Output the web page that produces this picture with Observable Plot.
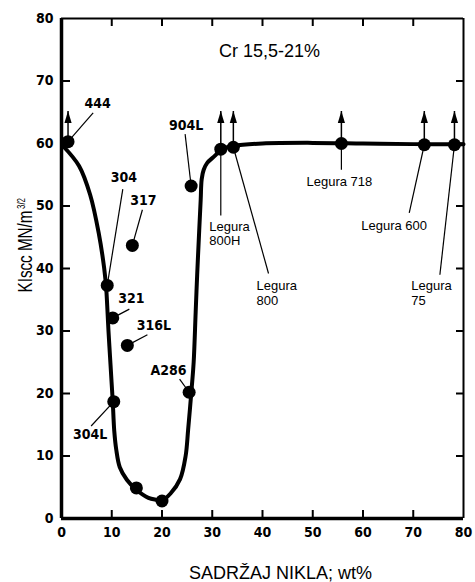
<!DOCTYPE html>
<html><head><meta charset="utf-8">
<script src="https://cdn.jsdelivr.net/npm/d3@7"></script>
<script src="https://cdn.jsdelivr.net/npm/@observablehq/plot@0.6"></script>
<style>body{margin:0;background:#fff}</style>
</head><body><div id="chart"></div>
<script>
// ---- data ----
const xTicks = [0, 10, 20, 30, 40, 50, 60, 70, 80];
const yTicks = [0, 10, 20, 30, 40, 50, 60, 70, 80];
const innerTicks = [10, 20, 30, 40, 50, 60, 70];

// fitted curve (Ni wt%, KIscc)
const curveNi = [0.3, 3.5, 5.7, 7.4, 8.5, 8.9, 9.1, 9.35, 9.65, 9.95, 10.2, 10.5, 10.9, 11.6, 13.0, 14.9, 17.3, 18.8, 20.0, 21.7, 23.6, 24.7, 25.2, 25.9, 26.3, 26.7, 27.0, 27.4, 27.7, 27.9, 28.3, 29.0, 30.6, 31.7, 34.2, 40, 50, 60, 70, 80];
const curveK  = [59.6, 56.4, 51.8, 45.7, 40.0, 36.8, 34.0, 30.0, 26.0, 22.0, 18.7, 14.0, 11.0, 8.2, 6.2, 4.6, 3.3, 3.0, 2.9, 4.0, 6.3, 10.0, 14.2, 20.8, 25.0, 33.0, 39.0, 46.0, 51.0, 54.3, 55.8, 56.9, 58.1, 59.1, 59.6, 60.0, 60.1, 60.0, 59.9, 59.9];

// measured alloys
const alloyNames = ["444", "304", "317", "321", "316L", "304L", "", "", "A286", "904L", "Legura 800H", "Legura 800", "Legura 718", "Legura 600", "Legura 75"];
const alloyNi    = [1.3, 9.1, 14.1, 10.2, 13.1, 10.4, 14.9, 20.0, 25.4, 25.8, 31.7, 34.2, 55.7, 72.2, 78.2];
const alloyK     = [60.3, 37.3, 43.7, 32.1, 27.7, 18.7, 4.9, 2.8, 20.2, 53.2, 59.1, 59.4, 60.0, 59.8, 59.8];
const arrowAlloys = ["444", "Legura 800H", "Legura 800", "Legura 718", "Legura 600", "Legura 75"];
const arrowTipK = 65.2;

// annotation labels (text, label anchor, leader start)
const annAlloy = ["444", "304", "317", "904L", "321", "316L", "304L", "A286", "Legura 800H", "Legura 800", "Legura 718", "Legura 600", "Legura 75"];
const annText  = ["444", "304", "317", "904L", "321", "316L", "304L", "A286", "Legura\n800H", "Legura\n800", "Legura 718", "Legura 600", "Legura\n75"];
const annX     = [7.2, 12.4, 16.3, 24.8, 13.9, 18.4, 5.7, 21.3, 29.4, 38.8, 55.3, 66.2, 69.6];
const annY     = [66.4, 54.5, 50.9, 62.8, 35.2, 30.8, 13.4, 23.7, 45.6, 36.1, 53.8, 46.8, 36.1];
const leadX    = [6.3, 12.2, 16.1, 24.6, 13.5, 17.1, 5.9, 23.5, 31.7, 41.2, 55.7, 69.2, 75.3];
const leadY    = [64.9, 52.7, 49.4, 61.5, 33.5, 29.4, 14.8, 22.3, 48.5, 39.2, 55.8, 48.9, 39.0];
const annKind  = ["bold", "bold", "bold", "bold", "bold", "bold", "bold", "bold", "reg", "reg", "reg", "reg", "reg"];

const titleText = "Cr 15,5-21%";
const titleNi = 41.4, titleK = 74.7;
const xLabel = "SADRŽAJ NIKLA; wt%";
const yLabelMain = "KIscc MN/m";
const yLabelSup = "3/2";

// ---- build ----
const curve = curveNi.map((x, i) => ({x, y: curveK[i]}));
const points = alloyNames.map((name, i) => ({name, x: alloyNi[i], y: alloyK[i]}));
const arrows = points.filter(d => arrowAlloys.includes(d.name));
const ann = annAlloy.map((a, i) => {
  const p = points.find(d => d.name === a);
  return {text: annText[i], kind: annKind[i], lx: annX[i], ly: annY[i], sx: leadX[i], sy: leadY[i], px: p.x, py: p.y};
});

const narrow = "'Liberation Sans Narrow', 'Arial Narrow', 'DejaVu Sans Condensed', sans-serif";
const sans = "'Liberation Sans', Arial, Helvetica, sans-serif";

const arrowHead = {
  draw(ctx) {
    ctx.moveTo(0, -6);
    ctx.lineTo(3.6, 6);
    ctx.lineTo(-3.6, 6);
    ctx.closePath();
  }
};

const W = 475, H = 582, mL = 61, mR = 12, mT = 18, mB = 64;
const fw = W - mL - mR, fh = H - mT - mB;

const chart = Plot.plot({
  width: W, height: H,
  marginLeft: mL, marginRight: mR, marginTop: mT, marginBottom: mB,
  x: {domain: [0, 80]},
  y: {domain: [0, 80]},
  style: {fontFamily: sans, background: "white", color: "black"},
  marks: [
    // frame
    Plot.ruleX([80], {stroke: "black", strokeWidth: 2}),
    Plot.ruleY([80], {stroke: "black", strokeWidth: 2}),
    Plot.ruleX([0], {stroke: "black", strokeWidth: 3.5}),
    Plot.ruleY([0], {stroke: "black", strokeWidth: 3.5}),
    // inward ticks
    Plot.tickX(innerTicks, {x: d => d, insetTop: fh - 8, stroke: "black", strokeWidth: 2}),
    Plot.tickX(innerTicks, {x: d => d, insetBottom: fh - 8, stroke: "black", strokeWidth: 2}),
    Plot.tickY(innerTicks, {y: d => d, insetRight: fw - 9, stroke: "black", strokeWidth: 2}),
    Plot.tickY(innerTicks, {y: d => d, insetLeft: fw - 7, stroke: "black", strokeWidth: 2}),
    // tick labels
    Plot.axisX({anchor: "bottom", ticks: xTicks, tickSize: 0, tickPadding: 9, label: null,
      fontFamily: narrow, fontWeight: "bold", fontSize: 14}),
    Plot.axisY({anchor: "left", ticks: yTicks, tickSize: 0, tickPadding: 8, label: null,
      fontFamily: narrow, fontWeight: "bold", fontSize: 14}),
    // curve
    Plot.line(curve, {x: "x", y: "y", curve: "catmull-rom", stroke: "black", strokeWidth: 4}),
    // arrows
    Plot.link(arrows, {x1: "x", y1: "y", x2: "x", y2: () => arrowTipK, stroke: "black", strokeWidth: 1.5}),
    Plot.dot(arrows, {x: "x", y: () => arrowTipK, dy: 6, symbol: arrowHead, fill: "black", stroke: "none"}),
    // leaders
    Plot.link(ann, {x1: "sx", y1: "sy", x2: "px", y2: "py", stroke: "black", strokeWidth: 1.2}),
    // points
    Plot.dot(points, {x: "x", y: "y", r: 6.5, fill: "black", stroke: "none"}),
    // labels
    Plot.text(ann.filter(d => d.kind === "bold"), {x: "lx", y: "ly", text: "text",
      fontFamily: narrow, fontWeight: "bold", fontSize: 14, fill: "black"}),
    Plot.text(ann.filter(d => d.kind === "reg" && d.text.includes("\n")), {x: "lx", y: "ly", text: "text",
      textAnchor: "start", lineHeight: 1.1, fontFamily: sans, fontSize: 13, fill: "black"}),
    Plot.text(ann.filter(d => d.kind === "reg" && !d.text.includes("\n")), {x: "lx", y: "ly", text: "text",
      fontFamily: sans, fontSize: 13, fill: "black"}),
    // title inside
    Plot.text([titleText], {x: () => titleNi, y: () => titleK, text: d => d, fontFamily: sans, fontSize: 18, fill: "black"}),
    // axis labels
    Plot.text([xLabel], {frameAnchor: "bottom", textAnchor: "middle", dx: 18, dy: 60, text: d => d, fontFamily: sans, fontSize: 18, fill: "black"}),
    Plot.text([yLabelMain], {frameAnchor: "left", textAnchor: "middle", lineAnchor: "middle", rotate: -90, dx: -36, dy: -17,
      text: d => d, fontFamily: sans, fontSize: 21, fill: "black", className: "ylab-main"}),
    Plot.text([yLabelSup], {frameAnchor: "left", textAnchor: "middle", lineAnchor: "middle", rotate: -90, dx: -40, dy: -65,
      text: d => d, fontFamily: sans, fontSize: 10, fill: "black", className: "ylab-sup"})
  ]
});
// condense the y label to the reference's narrow lettering
d3.select(chart).selectAll(".ylab-main text").attr("textLength", 82).attr("lengthAdjust", "spacingAndGlyphs");
d3.select(chart).selectAll(".ylab-sup text").attr("textLength", 11).attr("lengthAdjust", "spacingAndGlyphs");
document.getElementById("chart").appendChild(chart);
</script>
</body></html>
